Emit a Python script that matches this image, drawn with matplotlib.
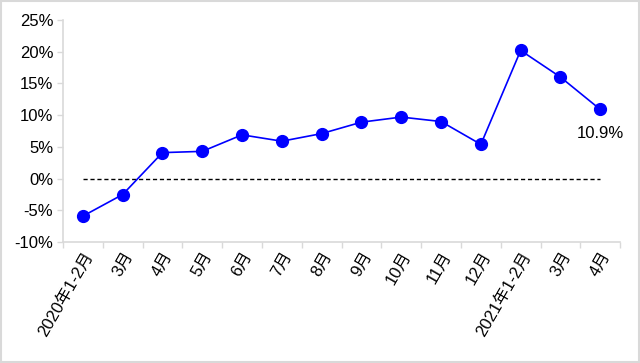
import numpy as np
import matplotlib as mpl
import matplotlib.pyplot as plt
from matplotlib.ticker import FixedLocator, PercentFormatter

mpl.rcParams.update({
    'font.family': ['Liberation Sans', 'Noto Sans CJK SC', 'DejaVu Sans'],
    'axes.unicode_minus': False,
})

months = ["2020年1-2月", "3月", "4月", "5月", "6月", "7月", "8月", "9月",
          "10月", "11月", "12月", "2021年1-2月", "3月", "4月"]
growth = [-5.9, -2.5, 4.1, 4.3, 6.9, 5.9, 7.1, 8.9, 9.7, 9.0, 5.4,
          20.2, 16.0, 10.9]
last_label = "10.9%"

grey = "#d9d9d9"
x = np.arange(len(months))

fig = plt.figure(figsize=(6.4, 3.63), dpi=100)
ax = fig.add_axes([0.0984, 0.333, 0.8706, 0.612])

ax.plot([x[0], x[-1]], [0, 0], color="k", linewidth=1.0,
        linestyle=(0, (3, 2)), zorder=1)
ax.plot(x, growth, '-o', color="#0000ff", linewidth=1.2, markersize=8.5,
        zorder=2)
ax.annotate(last_label, (x[-1], growth[-1]), xytext=(0, -12),
            textcoords="offset points", ha="center", va="top", fontsize=12)

ax.set_xlim(-0.5, len(months) - 0.5)
ax.set_ylim(-10, 25)
ax.set_yticks(np.arange(-10, 26, 5))
ax.yaxis.set_major_formatter(PercentFormatter(decimals=0))

ax.set_xticks(x)
ax.set_xticklabels(months, rotation=60, ha="right", rotation_mode="anchor")
ax.xaxis.set_minor_locator(FixedLocator(np.arange(-0.5, len(months), 1)))
ax.tick_params(axis='x', which='major', length=0, pad=5, labelsize=12)
ax.tick_params(axis='x', which='minor', length=4, color=grey, width=1)
ax.tick_params(axis='y', length=4, color=grey, width=1, labelsize=12,
               pad=3)

for side in ("top", "right"):
    ax.spines[side].set_visible(False)
for side in ("left", "bottom"):
    ax.spines[side].set_color(grey)
    ax.spines[side].set_linewidth(1.2)

fig.patches.append(plt.Rectangle((0.002, 0.003), 0.996, 0.994,
                                 transform=fig.transFigure, fill=False,
                                 edgecolor=grey, linewidth=1.5))

plt.savefig("out.png", dpi=100)
plt.close()
